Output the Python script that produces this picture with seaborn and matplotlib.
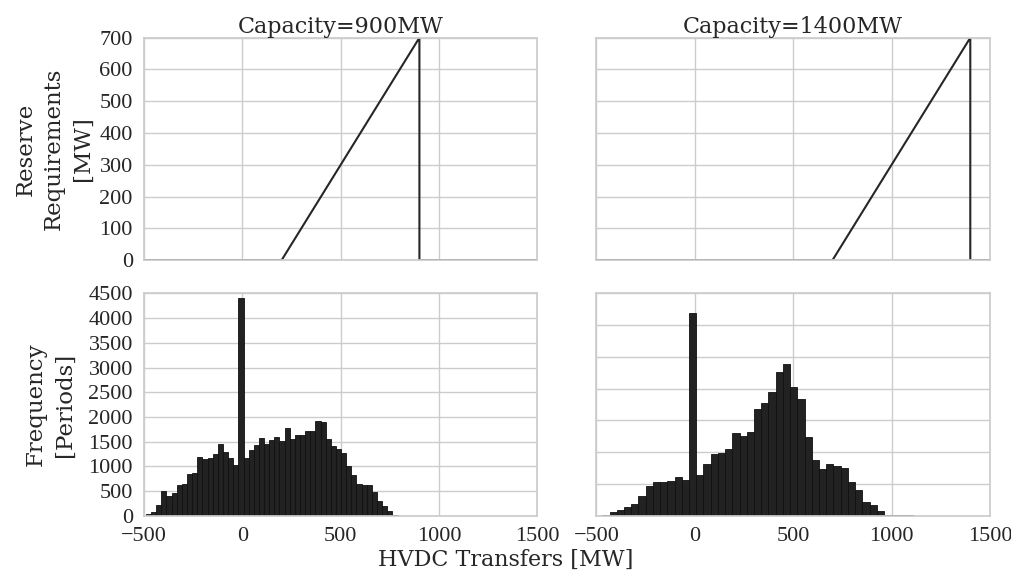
import numpy as np
import pandas as pd
import matplotlib
matplotlib.use("Agg")
import matplotlib.pyplot as plt
import seaborn as sns

# reserve requirement curves (piecewise lines)
reserve_x_900 = [-500, 200, 900, 900, 1500]
reserve_y_900 = [0, 0, 700, 0, 0]
reserve_x_1400 = [-500, 700, 1400, 1400, 1500]
reserve_y_1400 = [0, 0, 700, 0, 0]

# histogram of HVDC transfers, counts per bin
hist_range_900 = (-490, 789)
counts_900 = [34, 81, 223, 500, 405, 459, 622, 642, 838, 872,
              1196, 1149, 1176, 1243, 1446, 1291, 1176, 1027, 4400, 1176,
              1331, 1426, 1568, 1453, 1540, 1590, 1520, 1770, 1554, 1628,
              1628, 1716, 1716, 1919, 1892, 1547, 1412, 1358, 1264, 1014,
              831, 642, 628, 628, 473, 297, 196, 90, 20]

hist_range_1400 = (-470, 1108)
counts_1400 = [10, 52, 90, 135, 180, 315, 470, 525, 525, 540,
               610, 555, 3195, 635, 820, 970, 985, 1055, 1305, 1255,
               1320, 1675, 1780, 1945, 2255, 2385, 2030, 1835, 1245, 875,
               735, 820, 790, 745, 525, 400, 220, 175, 80, 15,
               5, 5, 5]

titles = ["Capacity=900MW", "Capacity=1400MW"]
x_ticks = [-500, 0, 500, 1000, 1500]

sns.set_theme(style="whitegrid")
# ticks in a narrow serif, the rest in a wider one
plt.rcParams["font.family"] = ["Liberation Serif", "DejaVu Serif"]
text_font = ["DejaVu Serif"]

fig, axes = plt.subplots(2, 2, figsize=(10.11, 5.75), dpi=100, sharex=True)
fig.subplots_adjust(left=0.1424, right=0.9792, bottom=0.1031, top=0.9344,
                    wspace=0.15, hspace=0.15)

curves = [(reserve_x_900, reserve_y_900), (reserve_x_1400, reserve_y_1400)]
hists = [(hist_range_900, counts_900), (hist_range_1400, counts_1400)]

for i in range(2):
    ax = axes[0, i]
    sns.lineplot(x=curves[i][0], y=curves[i][1], ax=ax, estimator=None,
                 sort=False, color="#262626", linewidth=1.5)
    ax.set_ylim(0, 700)
    ax.set_yticks(range(0, 701, 100))
    ax.set_title(titles[i], fontsize=16, pad=3, family=text_font)

    ax = axes[1, i]
    rng, counts = hists[i]
    edges = np.linspace(rng[0], rng[1], len(counts) + 1)
    df = pd.DataFrame({"transfer": (edges[:-1] + edges[1:]) / 2,
                       "periods": counts})
    sns.histplot(data=df, x="transfer", weights="periods", bins=list(edges),
                 ax=ax, color="#222222", alpha=1, edgecolor="#111111",
                 linewidth=0.6)

axes[1, 0].set_ylim(0, 4500)
axes[1, 0].set_yticks(range(0, 4501, 500))
axes[1, 1].set_ylim(0, 3500)
axes[1, 1].set_yticks(range(0, 3501, 500))

for ax in axes.flat:
    ax.set_xlim(-500, 1500)
    ax.set_xticks(x_ticks)
    ax.set_xlabel("")
    ax.set_ylabel("")
    ax.tick_params(labelsize=16, pad=2)
for ax in axes[:, 1]:
    ax.tick_params(labelleft=False)

axes[0, 0].set_ylabel("Reserve\nRequirements\n[MW]", fontsize=16.5,
                      family=text_font, labelpad=4, linespacing=1.4)
axes[1, 0].set_ylabel("Frequency\n[Periods]", fontsize=16.5,
                      family=text_font, labelpad=9, linespacing=1.4)
fig.text(0.5, 0.026, "HVDC Transfers [MW]", ha="center", va="center",
         fontsize=16, family=text_font, color="#262626")

fig.savefig("out.png", dpi=100)
